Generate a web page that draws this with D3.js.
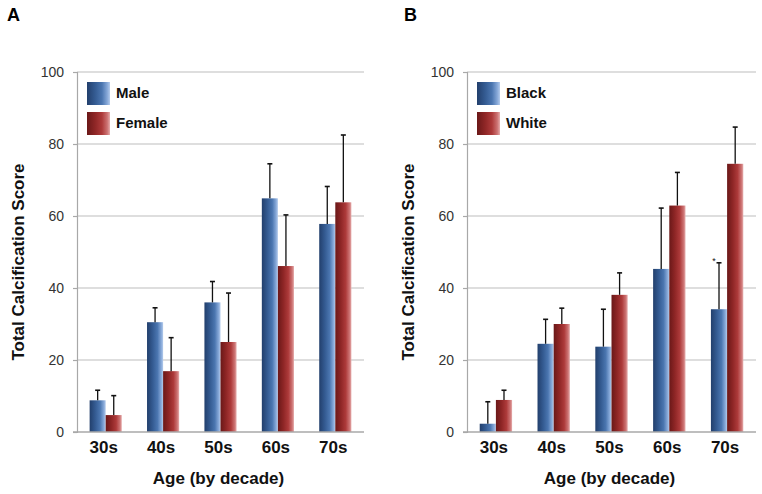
<!DOCTYPE html>
<html><head><meta charset="utf-8">
<script src="https://cdn.jsdelivr.net/npm/d3@7"></script>
<style>
html,body{margin:0;padding:0;background:#fff;}
svg{display:block;font-family:"Liberation Sans",Arial,Helvetica,sans-serif;}
</style></head>
<body>
<svg id="chart" width="762" height="494"></svg>
<script>
const categories = ["30s","40s","50s","60s","70s"];
const yTicks = [0,20,40,60,80,100];

const maleValues   = [8.8, 30.5, 36.0, 64.9, 57.8];
const maleErrTop   = [11.6, 34.5, 41.8, 74.5, 68.2];
const femaleValues = [4.7, 16.9, 25.0, 46.1, 63.8];
const femaleErrTop = [10.1, 26.2, 38.6, 60.3, 82.5];

const blackValues  = [2.3, 24.5, 23.7, 45.3, 34.1];
const blackErrTop  = [8.4, 31.3, 34.1, 62.2, 47.0];
const whiteValues  = [8.9, 30.0, 38.1, 62.9, 74.5];
const whiteErrTop  = [11.6, 34.4, 44.2, 72.1, 84.7];

const seriesA = ["Male","Female"];
const seriesB = ["Black","White"];

const svg = d3.select("#chart");
const defs = svg.append("defs");
function grad(id, stops){
  const g = defs.append("linearGradient").attr("id", id).attr("x1","0").attr("x2","1").attr("y1","0").attr("y2","0");
  stops.forEach(s => g.append("stop").attr("offset", s[0]).attr("stop-color", s[1]));
}
grad("gBlue", [["0%","#223f6c"],["35%","#345b92"],["65%","#4b76b0"],["88%","#86a8d8"],["100%","#b4cbec"]]);
grad("gRed",  [["0%","#6a1818"],["35%","#8f2626"],["65%","#ad3a3a"],["88%","#cc7272"],["100%","#e6adad"]]);

function panel(opts){
  const {x0, x1, label, labelX, series, vals, errs, titleX, star} = opts;
  const top = 72, bottom = 432;
  const y = d3.scaleLinear().domain([0,100]).range([bottom, top]);
  const x = d3.scaleBand().domain(categories).range([x0, x1]).paddingInner(0.44).paddingOuter(0.22);
  const xs = d3.scaleBand().domain(series).range([0, x.bandwidth()]);
  const g = svg.append("g");

  // gridlines
  g.selectAll("line.grid").data(yTicks.filter(t => t > 0)).enter().append("line")
    .attr("x1", x0).attr("x2", x1).attr("y1", d => y(d)).attr("y2", d => y(d))
    .attr("stroke", "#bdbdbd").attr("stroke-width", 1.2);

  // y axis
  const ax = g.append("g").attr("transform", `translate(${x0},0)`)
    .call(d3.axisLeft(y).tickValues(yTicks).tickSize(4).tickPadding(9));
  ax.select(".domain").attr("stroke", "#a8a8a8").attr("stroke-width", 1.2);
  ax.selectAll(".tick line").attr("stroke", "#a8a8a8").attr("stroke-width", 1.2);
  ax.selectAll(".tick text").attr("font-size", 14).attr("fill", "#333")
    .attr("font-family", "Liberation Sans, Arial, sans-serif");

  // bars
  const fills = ["url(#gBlue)", "url(#gRed)"];
  series.forEach((s, si) => {
    g.selectAll(null).data(categories).enter().append("rect")
      .attr("x", d => x(d) + xs(s))
      .attr("y", (d, i) => y(vals[si][i]))
      .attr("width", xs.bandwidth())
      .attr("height", (d, i) => y(0) - y(vals[si][i]))
      .attr("fill", fills[si]);
  });

  // baseline
  g.append("line").attr("x1", x0 - 4).attr("x2", x1).attr("y1", y(0)).attr("y2", y(0))
    .attr("stroke", "#a8a8a8").attr("stroke-width", 1.4);

  // error bars
  series.forEach((s, si) => {
    categories.forEach((c, i) => {
      const cx = x(c) + xs(s) + xs.bandwidth() / 2;
      g.append("line").attr("x1", cx).attr("x2", cx)
        .attr("y1", y(vals[si][i])).attr("y2", y(errs[si][i]))
        .attr("stroke", "#111").attr("stroke-width", 1.3);
      g.append("line").attr("x1", cx - 2.5).attr("x2", cx + 2.5)
        .attr("y1", y(errs[si][i])).attr("y2", y(errs[si][i]))
        .attr("stroke", "#111").attr("stroke-width", 1.6);
    });
  });

  // x labels
  g.selectAll(null).data(categories).enter().append("text")
    .attr("x", d => x(d) + x.bandwidth() / 2 - 2)
    .attr("y", 453)
    .attr("text-anchor", "middle").attr("font-size", 17).attr("font-weight", "bold").attr("fill", "#111")
    .text(d => d);

  // axis titles
  g.append("text").attr("x", (x0 + x1) / 2 - 2).attr("y", 484)
    .attr("text-anchor", "middle").attr("font-size", 17).attr("font-weight", "bold").attr("fill", "#111")
    .text("Age (by decade)");
  g.append("text").attr("transform", `translate(${titleX},262) rotate(-90)`)
    .attr("text-anchor", "middle").attr("font-size", 17).attr("font-weight", "bold").attr("fill", "#111")
    .text("Total Calcification Score");

  // panel label
  g.append("text").attr("x", labelX).attr("y", 21).attr("font-size", 18).attr("font-weight", "bold").attr("fill", "#000")
    .text(label);

  // legend
  series.forEach((s, si) => {
    const ly = 82 + si * 30;
    g.append("rect").attr("x", x0 + 10).attr("y", ly).attr("width", 23).attr("height", 23).attr("fill", fills[si]);
    g.append("text").attr("x", x0 + 39).attr("y", ly + 16).attr("font-size", 15).attr("font-weight", "bold").attr("fill", "#111")
      .text(s);
  });

  if (star) {
    const c = categories[star.index];
    const cx = x(c) + xs(series[star.series]) + xs.bandwidth() / 2;
    g.append("text").attr("x", cx - 5).attr("y", y(errs[star.series][star.index]) + 1)
      .attr("text-anchor", "middle").attr("font-size", 9).attr("fill", "#111").text("*");
  }
}

panel({x0: 77, x1: 364, label: "A", labelX: 7, series: seriesA,
  vals: [maleValues, femaleValues], errs: [maleErrTop, femaleErrTop], titleX: 24});
panel({x0: 467, x1: 756, label: "B", labelX: 404, series: seriesB,
  vals: [blackValues, whiteValues], errs: [blackErrTop, whiteErrTop], titleX: 414,
  star: {series: 0, index: 4}});
</script>
</body></html>
